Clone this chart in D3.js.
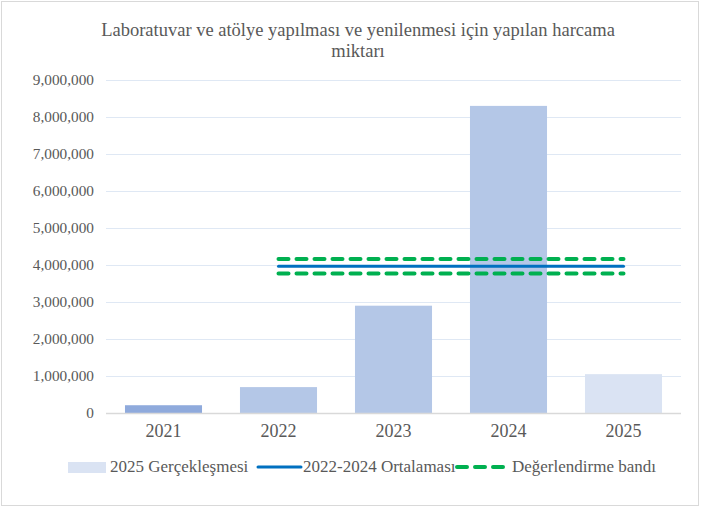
<!DOCTYPE html>
<html>
<head>
<meta charset="utf-8">
<script src="https://cdn.jsdelivr.net/npm/d3@7"></script>
<style>
  body { margin: 0; background: #fff; }
  svg text { font-family: "Liberation Serif", "Times New Roman", serif !important; fill: #595959; }
</style>
</head>
<body>
<svg width="701" height="508"></svg>
<script>
// data
var years = ["2021", "2022", "2023", "2024", "2025"];
var spend = [210000, 700000, 2900000, 8300000, 1050000];
var barColors = ["#8faadc", "#b4c7e7", "#b4c7e7", "#b4c7e7", "#dae3f3"];
var yTicks = [0, 1000000, 2000000, 3000000, 4000000, 5000000, 6000000, 7000000, 8000000, 9000000];
var avgYears = ["2022", "2023", "2024"];
var lineYears = ["2022", "2025"];
var bandPct = 0.05;

var svg = d3.select("svg");

// chart border
svg.append("rect")
   .attr("x", 1.5).attr("y", 1.5)
   .attr("width", 697).attr("height", 504)
   .attr("fill", "none").attr("stroke", "#d9d9d9");

var x = d3.scaleBand().domain(years).range([106, 681]).paddingInner(0.33).paddingOuter(0.165);
var y = d3.scaleLinear().domain([0, 9000000]).range([413, 80]);

// title
var title = svg.append("text").attr("x", 358).attr("text-anchor", "middle").style("font-size", "18.5px");
title.append("tspan").attr("x", 358).attr("y", 36).text("Laboratuvar ve atölye yapılması ve yenilenmesi için yapılan harcama");
title.append("tspan").attr("x", 358).attr("y", 57).text("miktarı");

// gridlines
svg.selectAll(".grid").data(yTicks.slice(1)).enter().append("line")
   .attr("x1", 106).attr("x2", 681)
   .attr("y1", function(d){ return Math.round(y(d)) + 0.5; })
   .attr("y2", function(d){ return Math.round(y(d)) + 0.5; })
   .attr("stroke", "#dfe8f4").attr("stroke-width", 1);

// y axis labels
var yAxis = d3.axisLeft(y).tickValues(yTicks).tickFormat(d3.format(",")).tickSize(0).tickPadding(0);
var gy = svg.append("g").attr("transform", "translate(94,0)").call(yAxis);
gy.select(".domain").remove();
gy.selectAll("text").style("font-size", "15.3px").attr("fill", "#595959");

// bars
svg.selectAll(".bar").data(spend).enter().append("rect")
   .attr("x", function(d, i){ return x(years[i]); })
   .attr("y", function(d){ return y(d); })
   .attr("width", x.bandwidth())
   .attr("height", function(d){ return y(0) - y(d); })
   .attr("fill", function(d, i){ return barColors[i]; });

// zero line
svg.append("line").attr("x1", 106).attr("x2", 681).attr("y1", 413.5).attr("y2", 413.5)
   .attr("stroke", "#d9d9d9").attr("stroke-width", 1.5);

// x axis labels
var xAxis = d3.axisBottom(x).tickSize(0).tickPadding(0);
var gx = svg.append("g").attr("transform", "translate(0,424)").call(xAxis);
gx.select(".domain").remove();
gx.selectAll("text").style("font-size", "18px").attr("fill", "#595959");

// average of 2022-2024 and band
var avg = d3.mean(avgYears, function(yr){ return spend[years.indexOf(yr)]; });
var lx1 = x(lineYears[0]) + x.bandwidth() / 2;
var lx2 = x(lineYears[1]) + x.bandwidth() / 2;

[avg * (1 + bandPct), avg * (1 - bandPct)].forEach(function(v){
  svg.append("line").attr("x1", lx1).attr("x2", lx2).attr("y1", y(v)).attr("y2", y(v))
     .attr("stroke", "#00b050").attr("stroke-width", 4)
     .attr("stroke-dasharray", "10,8").attr("stroke-linecap", "round");
});
svg.append("line").attr("x1", lx1).attr("x2", lx2).attr("y1", y(avg)).attr("y2", y(avg))
   .attr("stroke", "#0070c0").attr("stroke-width", 3).attr("stroke-linecap", "round");

// legend
var ly = 467;
svg.append("rect").attr("x", 68).attr("y", ly - 5).attr("width", 38).attr("height", 11).attr("fill", "#dae3f3");
svg.append("text").attr("x", 110).attr("y", ly + 5).style("font-size", "17px").text("2025 Gerçekleşmesi");
svg.append("line").attr("x1", 258).attr("x2", 301).attr("y1", ly).attr("y2", ly)
   .attr("stroke", "#0070c0").attr("stroke-width", 3).attr("stroke-linecap", "round");
svg.append("text").attr("x", 303).attr("y", ly + 5).style("font-size", "17px").text("2022-2024 Ortalaması");
svg.append("line").attr("x1", 457).attr("x2", 509).attr("y1", ly).attr("y2", ly)
   .attr("stroke", "#00b050").attr("stroke-width", 4)
   .attr("stroke-dasharray", "10,8").attr("stroke-linecap", "round");
svg.append("text").attr("x", 512).attr("y", ly + 5).style("font-size", "17px").text("Değerlendirme bandı");
</script>
</body>
</html>
